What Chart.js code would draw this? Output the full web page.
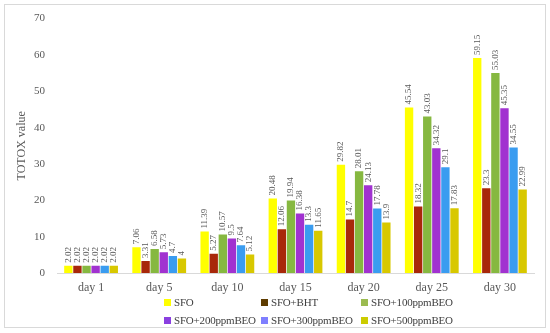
<!DOCTYPE html>
<html>
<head>
<meta charset="utf-8">
<script src="https://cdn.jsdelivr.net/npm/chart.js@4.4.0/dist/chart.umd.min.js"></script>
<style>
  body { margin: 0; background: #fff; }
  #wrap { position: relative; width: 550px; height: 333px; }
  #legend { position: absolute; left: 0; top: 0; width: 550px; height: 333px; pointer-events: none;
            font-family: "Liberation Serif", "DejaVu Serif", serif; font-size: 11px; letter-spacing: -0.2px; color: #404040; }
  .item { position: absolute; white-space: nowrap; line-height: 14px; }
  .box { display: inline-block; width: 7px; height: 7px; margin-right: 3px; vertical-align: 0px; }
</style>
</head>
<body>
<div id="wrap">
  <canvas id="myChart1" width="550" height="333"></canvas>
  <div id="legend"></div>
</div>
<script>
const days = ["day 1", "day 5", "day 10", "day 15", "day 20", "day 25", "day 30"];
const seriesNames = ["SFO", "SFO+BHT", "SFO+100ppmBEO", "SFO+200ppmBEO", "SFO+300ppmBEO", "SFO+500ppmBEO"];
const sfo      = [2.02, 7.06, 11.39, 20.48, 29.82, 45.54, 59.15];
const sfoBht   = [2.02, 3.31, 5.27, 12.06, 14.7, 18.32, 23.3];
const sfo100   = [2.02, 6.58, 10.57, 19.94, 28.01, 43.03, 55.03];
const sfo200   = [2.02, 5.73, 9.5, 16.38, 24.13, 34.32, 45.35];
const sfo300   = [2.02, 4.7, 7.64, 13.3, 17.78, 29.1, 34.55];
const sfo500   = [2.02, 4, 5.12, 11.65, 13.9, 17.83, 22.99];
const yTicks = [0, 10, 20, 30, 40, 50, 60, 70];

const barColors = ['#ffff00', '#a8280a', '#86b840', '#a132d0', '#3a9cf0', '#d8c800'];
const legendColors = ['#ffff00', '#5e3c00', '#9bbb50', '#8a3fe0', '#7f7fff', '#cccc00'];
const allSeries = [sfo, sfoBht, sfo100, sfo200, sfo300, sfo500];

const serif = '"Liberation Serif", "DejaVu Serif", serif';

// rotated value labels above bars
const valueLabels = {
    id: 'valueLabels',
    afterDatasetsDraw(chart) {
        const ctx = chart.ctx;
        ctx.save();
        ctx.font = '9px ' + serif;
        ctx.fillStyle = '#595959';
        ctx.textAlign = 'left';
        ctx.textBaseline = 'middle';
        chart.data.datasets.forEach((ds, i) => {
            chart.getDatasetMeta(i).data.forEach((bar, j) => {
                ctx.save();
                ctx.translate(bar.x, bar.y - 3);
                ctx.rotate(-Math.PI / 2);
                ctx.fillText(String(ds.data[j]), 0, 0);
                ctx.restore();
            });
        });
        ctx.restore();
    }
};

// light frame round the whole chart
const frame = {
    id: 'frame',
    beforeDraw(chart) {
        const ctx = chart.ctx;
        ctx.save();
        ctx.strokeStyle = '#d9d9d9';
        ctx.lineWidth = 1;
        ctx.strokeRect(4.5, 4.5, 541, 323);
        ctx.restore();
    }
};

const data1 = {
    labels: days,
    datasets: seriesNames.map((name, i) => ({
        label: name,
        data: allSeries[i],
        backgroundColor: barColors[i],
        borderWidth: 0,
        categoryPercentage: 0.8,
        barPercentage: 0.92
    }))
};

const config1 = {
    type: 'bar',
    data: data1,
    options: {
        responsive: false,
        animation: false,
        layout: { padding: { top: 16, right: 16, left: 15, bottom: 0 } },
        scales: {
            x: {
                grid: { display: false, drawTicks: false },
                border: { color: '#d9d9d9' },
                ticks: { color: '#595959', font: { family: serif, size: 12 }, padding: 8 },
                afterFit(scale) { scale.height = 60; }
            },
            y: {
                min: 0,
                max: 70,
                afterBuildTicks(scale) { scale.ticks = yTicks.map(v => ({ value: v })); },
                grid: { display: false, drawTicks: false },
                border: { display: false },
                ticks: { color: '#595959', font: { family: serif, size: 11 }, padding: 12 },
                title: {
                    display: true,
                    text: 'TOTOX value',
                    color: '#595959',
                    font: { family: serif, size: 12 },
                    padding: 0
                },
                afterFit(scale) { scale.width = 42; }
            }
        },
        plugins: {
            legend: { display: false },
            tooltip: { enabled: false }
        }
    },
    plugins: [frame, valueLabels]
};

var myChart = new Chart(document.getElementById('myChart1'), config1);

// legend laid out in 3 columns x 2 rows like the original
const legendCols = [164, 261, 361];
const legendRows = [295, 313];
const legendDiv = document.getElementById('legend');
seriesNames.forEach((name, i) => {
    const el = document.createElement('div');
    el.className = 'item';
    el.style.left = legendCols[i % 3] + 'px';
    el.style.top = legendRows[Math.floor(i / 3)] + 'px';
    el.innerHTML = '<span class="box" style="background:' + legendColors[i] + '"></span>' + name;
    legendDiv.appendChild(el);
});
</script>
</body>
</html>
